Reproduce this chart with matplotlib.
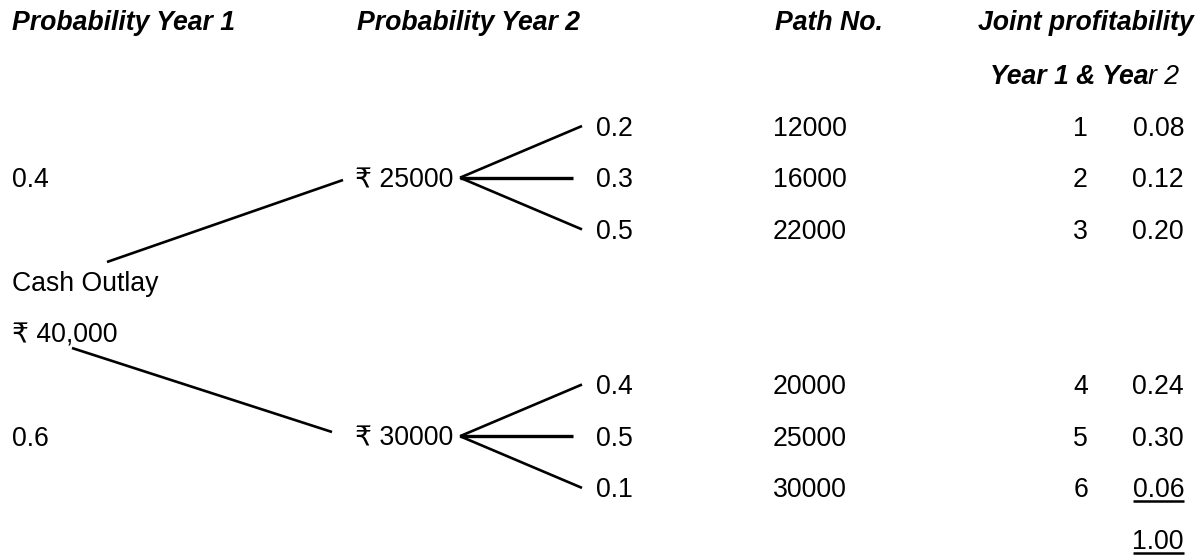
import matplotlib
matplotlib.use("Agg")
import matplotlib.pyplot as plt

plt.rcParams['font.family'] = ['Liberation Sans', 'DejaVu Sans']

# data
headers = ["Probability Year 1", "Probability Year 2", "Path No.", "Joint profitability"]
outlay = 40000
prob_year1 = [0.4, 0.6]
cash_year1 = [25000, 30000]
prob_year2 = [[0.2, 0.3, 0.5], [0.4, 0.5, 0.1]]
cash_year2 = [[12000, 16000, 22000], [20000, 25000, 30000]]
path_no = [1, 2, 3, 4, 5, 6]
joint_prob = [0.08, 0.12, 0.20, 0.24, 0.30, 0.06]
total_prob = 1.00

FS = 19.2
ROW0, STEP = 126, 51.7


def row_y(i):
    return ROW0 + STEP * i


fig = plt.figure(figsize=(12.01, 5.56), dpi=100)
ax = fig.add_axes([0, 0, 1, 1])
ax.set_xlim(0, 1201)
ax.set_ylim(556, 0)
ax.axis("off")


def txt(x, y, s, ha="left", **kw):
    # y is the visual centre of the digits; shift to the baseline
    return ax.text(x, y + 9.5, s, ha=ha, va="baseline", fontsize=FS, **kw)


# column headers
hdr = dict(fontweight="bold", fontstyle="italic")
txt(12, 21, headers[0], **hdr)
txt(357, 21, headers[1], **hdr)
txt(775, 21, headers[2], **hdr)
txt(1194, 21, headers[3], ha="right", **hdr)

fig.canvas.draw()
r = fig.canvas.get_renderer()
inv = ax.transData.inverted()
tail = txt(1179, 75, "r 2", ha="right", fontstyle="italic")
x0 = inv.transform(tail.get_window_extent(r).get_points())[0][0]
txt(x0, 75, "Year 1 & Yea", ha="right", **hdr)

# root
txt(12, row_y(3), "Cash Outlay")
txt(12, row_y(4), f"\u20b9 {outlay:,}")

node_rows = [1, 6]
child_rows = [[0, 1, 2], [5, 6, 7]]
root_ends = [((107, 262), (343, 180)), ((72, 348), (332, 432))]

for k in range(2):
    ny = row_y(node_rows[k])
    txt(12, ny, f"{prob_year1[k]:.1f}")
    txt(355, ny, f"\u20b9 {cash_year1[k]}")
    (xa, ya), (xb, yb) = root_ends[k]
    ax.plot([xa, xb], [ya, yb], color="black", lw=1.9, solid_capstyle="butt")
    for j in range(3):
        cy = row_y(child_rows[k][j])
        xe = 573 if j == 1 else 582
        ax.plot([460, xe], [ny, cy], color="black", lw=2.4 if j == 1 else 1.9,
                solid_capstyle="butt")
        txt(596, cy, f"{prob_year2[k][j]:.1f}")
        txt(773, cy, f"{cash_year2[k][j]}")
        idx = 3 * k + j
        txt(1088, cy, str(path_no[idx]), ha="right")
        t = txt(1184, cy, f"{joint_prob[idx]:.2f}", ha="right")

fig.canvas.draw()


def underline(t):
    bb = inv.transform(t.get_window_extent(r).get_points())
    xs = [bb[0][0], bb[1][0]]
    yb = t.get_position()[1] + 3.5
    ax.plot(xs, [yb, yb], color="black", lw=1.8, solid_capstyle="butt")


underline(t)
tot = txt(1184, row_y(8), f"{total_prob:.2f}", ha="right")
fig.canvas.draw()
underline(tot)

fig.savefig("out.png", dpi=100)
